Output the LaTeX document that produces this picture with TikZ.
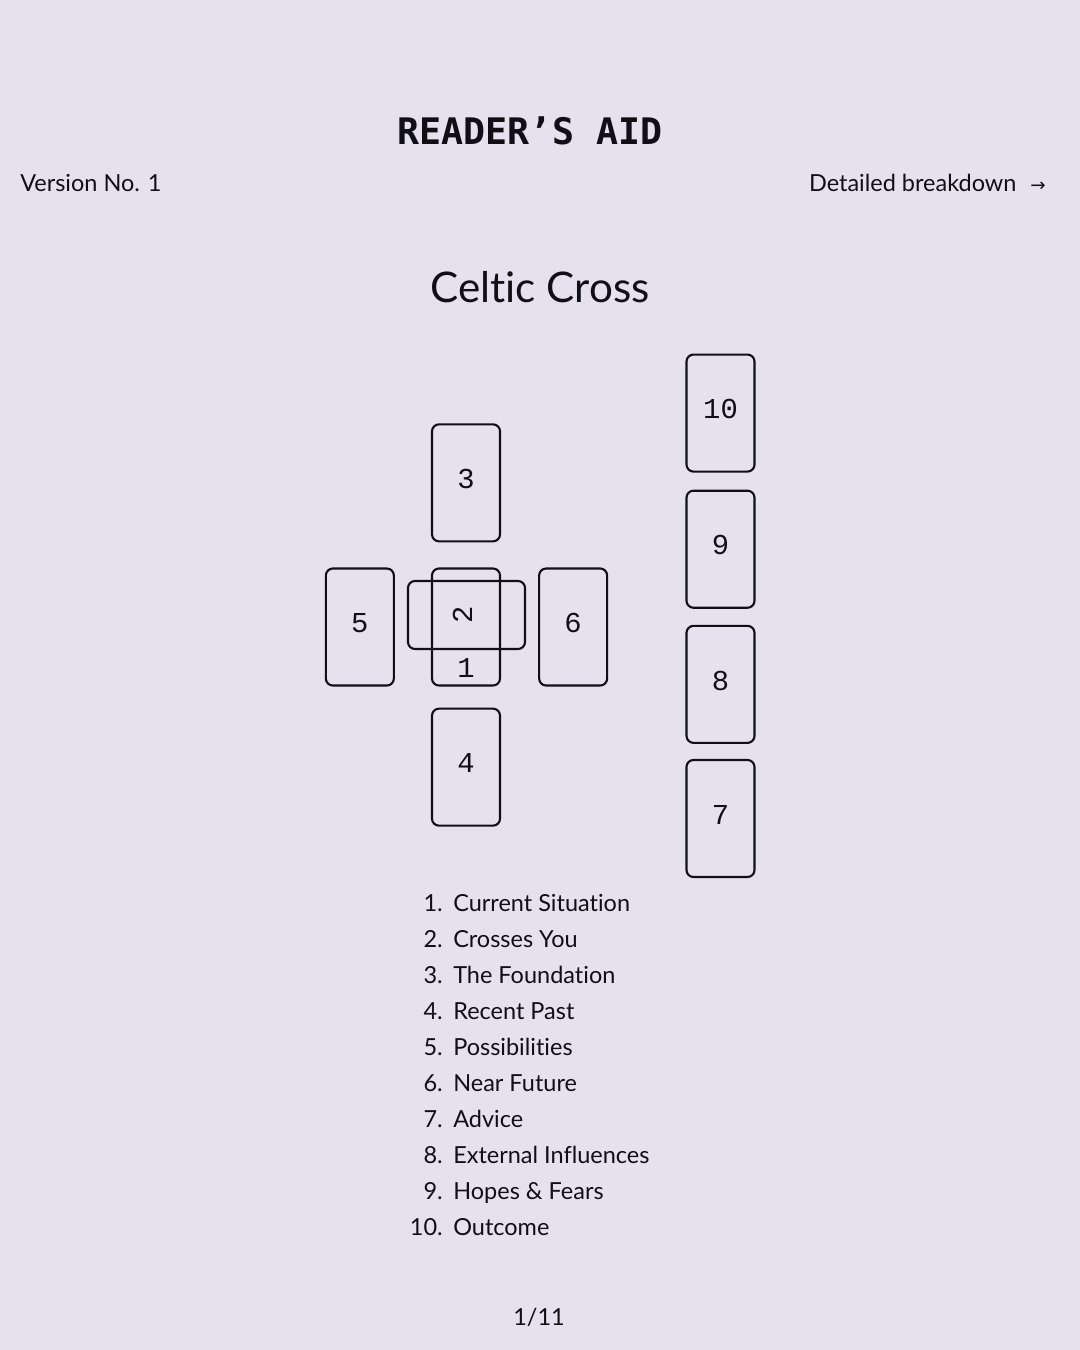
\documentclass[tikz,border=0pt]{standalone}
\usepackage{fontspec}
\setmainfont{Lato}[Ligatures=NoCommon]
\newfontfamily\headfont{DejaVu Sans Mono}
\newfontfamily\cardfont{Liberation Mono}
\newfontfamily\symbolfont{DejaVu Sans}
\usetikzlibrary{positioning}
\definecolor{paper}{RGB}{229,226,238}
\definecolor{ink}{RGB}{16,15,22}

\begin{document}
\begin{tikzpicture}[
  x=0.025cm, y=-0.025cm,
  card/.style={rectangle, draw=ink, line width=1.5pt, rounded corners=5pt,
               minimum width=1.7cm, minimum height=2.925cm, inner sep=0pt,
               text depth=0.2cm,
               text=ink, font=\cardfont\fontsize{20.5}{21}\selectfont},
  cardnum/.style={inner sep=0pt, text=ink, font=\cardfont\fontsize{20.5}{21}\selectfont},
  plain/.style={inner sep=0pt, text=ink, font=\fontsize{16.7}{20}\selectfont},
  heading/.style={inner sep=0pt, text=ink, font=\headfont\bfseries\fontsize{26}{30}\selectfont},
  spreadname/.style={inner sep=0pt, text=ink, font=\fontsize{30}{36}\selectfont}
]
  \fill[paper] (0,0) rectangle (1080,1350);
  \useasboundingbox (0,0) rectangle (1080,1350);

  % ── HEADER ──
  \node[heading, anchor=base] (title) at (530,144.5) {READER’S AID};
  \node[plain, anchor=base west] (version) at (20,191.5) {Version No. 1};
  \node[plain, anchor=base east] (detail) at (1046,191.5)
    {Detailed breakdown\hspace{0.35cm}{\symbolfont\fontsize{13}{13}\selectfont →}};
  \node[spreadname, anchor=base] (spread) at (540,302) {Celtic Cross};

  % ── CROSS ──
  \node[card] (c1) at (466,627) {};
  \node[card, rotate=90] (c2) at (466.5,615) {2};
  \node[cardnum, above=0.225cm of c1.south, anchor=south] (n1) {1};
  \node[card, above=0.625cm of c1] (c3) {3};
  \node[card, below=0.525cm of c1] (c4) {4};
  \node[card, left=0.9cm of c1] (c5) {5};
  \node[card, right=0.925cm of c1] (c6) {6};

  % ── STAFF ──
  \node[card] (c7) at (720.5,818.5) {7};
  \node[card, above=0.375cm of c7] (c8) {8};
  \node[card, above=0.4cm of c8] (c9) {9};
  \node[card, above=0.425cm of c9] (c10) {10};

  % ── KEY ──
  \foreach \n/\t in {1/Current Situation, 2/Crosses You, 3/The Foundation,
                     4/Recent Past, 5/Possibilities, 6/Near Future, 7/Advice,
                     8/External Influences, 9/Hopes \& Fears, 10/Outcome}{
    \node[plain, anchor=base east] (num\n) at (443,{911.5+(\n-1)*36}) {\n.};
    \node[plain, anchor=base west] (item\n) at (453,{911.5+(\n-1)*36}) {\t};
  }

  % ── FOOTER ──
  \node[plain, anchor=base] (page) at (539,1325) {1/11};
\end{tikzpicture}
\end{document}
